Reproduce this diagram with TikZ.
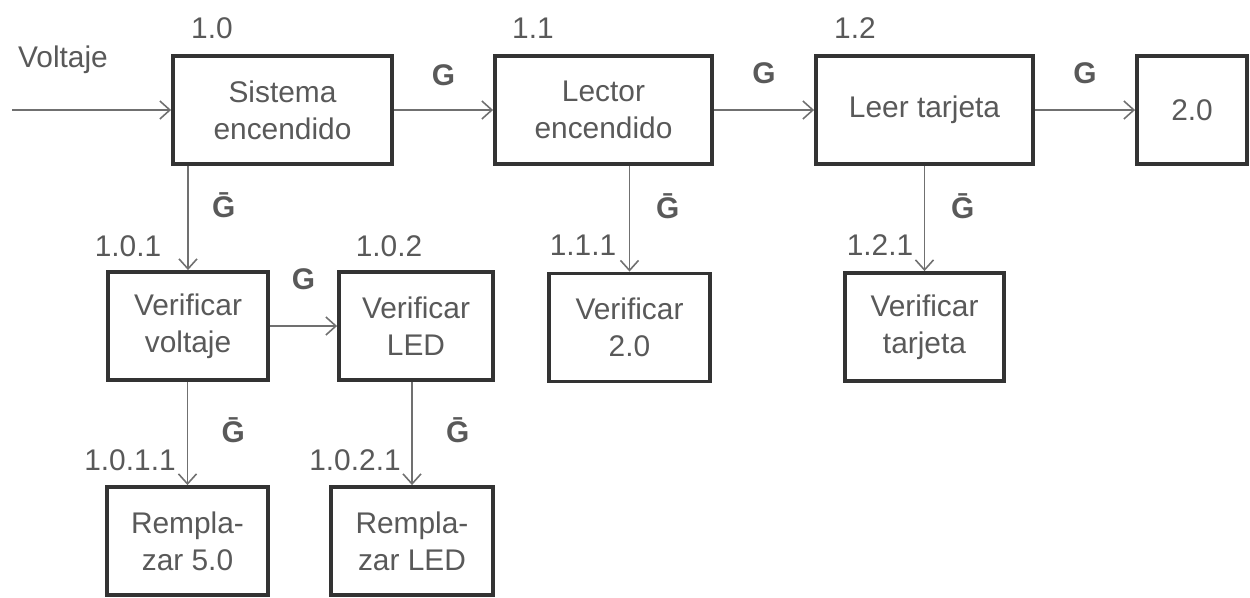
\documentclass[tikz,border=0pt]{standalone}
\usepackage{fontspec}
\setmainfont{Liberation Sans}
\usetikzlibrary{arrows.meta}
\definecolor{ink}{HTML}{595959}
\definecolor{edge}{HTML}{333333}
\definecolor{wire}{HTML}{707070}
\begin{document}
\begin{tikzpicture}[font=\fontsize{17}{21}\selectfont,text=ink,
  box/.style={draw=edge,line width=2.2pt,align=center,minimum height=2.16cm,inner sep=2pt},
  num/.style={text=ink},
  sig/.style={font=\fontsize{17}{21}\selectfont\bfseries,text=ink},
  >={Straight Barb[length=2mm,width=3.6mm]}]
\useasboundingbox (0,0) rectangle (25,-11.94);
% top row
\node[box,minimum width=4.38cm] (sis) at (5.65,-2.2) {Sistema\\encendido};
\node[box,minimum width=4.34cm] (lec) at (12.07,-2.2) {Lector\\encendido};
\node[box,minimum width=4.34cm] (leer) at (18.49,-2.2) {Leer tarjeta};
\node[box,minimum width=2.2cm] (dos) at (23.84,-2.2) {2.0};
% second row
\node[box,minimum width=3.2cm] (vvolt) at (3.76,-6.52) {Verificar\\voltaje};
\node[box,minimum width=3.08cm] (vled) at (8.32,-6.52) {Verificar\\LED};
\node[box,minimum width=3.22cm] (vdos) at (12.59,-6.55) {Verificar\\2.0};
\node[box,minimum width=3.18cm] (vtar) at (18.49,-6.54) {Verificar\\tarjeta};
% third row
\node[box,minimum width=3.22cm] (rcin) at (3.75,-10.82) {Rempla-\\zar 5.0};
\node[box,minimum width=3.24cm] (rled) at (8.24,-10.82) {Rempla-\\zar LED};
% labels
\node (volt) at (1.26,-1.2) {Voltaje};
\node[num] at (4.24,-0.56) {1.0};
\node[num] at (10.66,-0.56) {1.1};
\node[num] at (17.1,-0.56) {1.2};
\node[num] at (2.56,-4.93) {1.0.1};
\node[num] at (7.78,-4.93) {1.0.2};
\node[num] at (11.66,-4.9) {1.1.1};
\node[num] at (17.6,-4.9) {1.2.1};
\node[num] at (2.6,-9.2) {1.0.1.1};
\node[num] at (7.1,-9.2) {1.0.2.1};
\coordinate (in) at (0.24,-2.2);
% connectors
\begin{scope}[draw=wire,line width=0.9pt]
\draw[->] (in) -- (sis);
\draw[->] (sis) -- node[sig,above=0.35cm]{G} (lec);
\draw[->] (lec) -- node[sig,above=0.4cm]{G} (leer);
\draw[->] (leer) -- node[sig,above=0.4cm]{G} (dos);
\draw[->] (vvolt) -- node[sig,above=0.6cm]{G} (vled);
\draw[->] (vvolt.north |- sis.south) -- node[sig,right=0.35cm,pos=0.38]{\=G} (vvolt.north);
\draw[->] (vdos.north |- lec.south) -- node[sig,right=0.4cm,pos=0.38]{\=G} (vdos.north);
\draw[->] (vtar.north |- leer.south) -- node[sig,right=0.4cm,pos=0.38]{\=G} (vtar.north);
\draw[->] (rcin.north |- vvolt.south) -- node[sig,right=0.55cm,pos=0.47]{\=G} (rcin.north);
\draw[->] (rled.north |- vled.south) -- node[sig,right=0.55cm,pos=0.47]{\=G} (rled.north);
\end{scope}
\end{tikzpicture}
\end{document}
